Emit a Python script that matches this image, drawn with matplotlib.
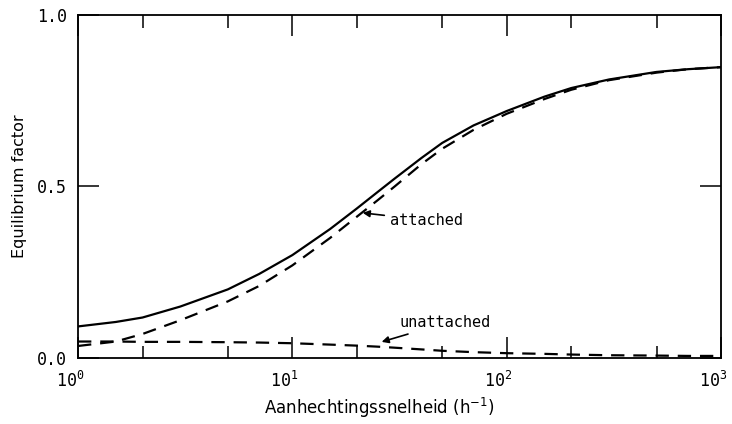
import matplotlib
matplotlib.use('Agg')
import matplotlib.pyplot as plt
import matplotlib.transforms as mtransforms
from matplotlib.ticker import LogLocator, NullFormatter, FixedLocator

# rate values (h^-1)
rate = [1, 1.5, 2, 3, 5, 7, 10, 15, 20, 25, 30, 40, 50, 70, 100, 150, 200, 300, 500, 700, 1000]
# total equilibrium factor (solid)
total = [0.092, 0.105, 0.118, 0.15, 0.20, 0.245, 0.30, 0.376, 0.436, 0.484, 0.523, 0.583, 0.627,
         0.678, 0.72, 0.762, 0.787, 0.812, 0.834, 0.842, 0.848]
# attached fraction (dashed)
attached = [0.035, 0.048, 0.07, 0.11, 0.165, 0.21, 0.27, 0.35, 0.412, 0.46, 0.50, 0.565, 0.61,
            0.665, 0.712, 0.755, 0.782, 0.81, 0.832, 0.842, 0.848]
# unattached fraction (dashed)
unattached = [0.048, 0.048, 0.047, 0.047, 0.046, 0.045, 0.043, 0.039, 0.036, 0.033, 0.03, 0.025,
              0.021, 0.017, 0.014, 0.012, 0.010, 0.008, 0.007, 0.006, 0.006]

plt.rcParams['font.family'] = ['DejaVu Sans Mono', 'DejaVu Sans']

fig = plt.figure(figsize=(7.32, 4.24), dpi=100)
ax = fig.add_axes([0.1066, 0.1557, 0.8784, 0.8089])

dash = (0, (6, 4))
ax.plot(rate, total, color='black', lw=1.6)
ax.plot(rate, attached, color='black', lw=1.6, linestyle=dash)
ax.plot(rate, unattached, color='black', lw=1.6, linestyle=dash)

ax.set_xscale('log')
ax.set_xlim(1, 1000)
ax.set_ylim(0, 1.0)

ax.xaxis.set_major_locator(LogLocator(base=10, numticks=10))
ax.xaxis.set_minor_locator(LogLocator(base=10, subs=[2, 5], numticks=10))
ax.xaxis.set_minor_formatter(NullFormatter())
ax.yaxis.set_major_locator(FixedLocator([0.0, 0.5, 1.0]))
ax.set_yticklabels(['0.0', '0.5', '1.0'])

ax.tick_params(which='major', direction='in', length=15, width=1.1,
               top=True, right=True, labelsize=12, pad=8)
ax.tick_params(which='minor', direction='in', length=9, width=1.1,
               top=True, right=True)
ax.tick_params(axis='x', which='major', labelsize=12, pad=9)
for s in ax.spines.values():
    s.set_linewidth(1.3)

# x tick labels sit just left of their tick, exponent near the tick
shift = mtransforms.ScaledTranslation(6 / 100, 0, fig.dpi_scale_trans)
for lab in ax.get_xticklabels():
    lab.set_horizontalalignment('right')
    lab.set_transform(lab.get_transform() + shift)

ax.set_xlabel('Aanhechtingssnelheid (h$^{-1}$)', fontsize=12, x=0.468, labelpad=4,
              family='DejaVu Sans')
ax.set_ylabel('Equilibrium factor', fontsize=11.5, labelpad=7, family='DejaVu Sans')

ax.annotate('attached', xy=(21.3, 0.423), xytext=(28.5, 0.402),
            fontsize=11, va='center', ha='left',
            arrowprops=dict(arrowstyle='-|>', color='black', lw=1.2,
                            shrinkA=2, shrinkB=0, mutation_scale=10))
ax.annotate('unattached', xy=(26.1, 0.047), xytext=(31.7, 0.102),
            fontsize=11, va='center', ha='left',
            arrowprops=dict(arrowstyle='-|>', color='black', lw=1.2,
                            shrinkA=2, shrinkB=0, mutation_scale=10))

fig.savefig('out.png', dpi=100)
